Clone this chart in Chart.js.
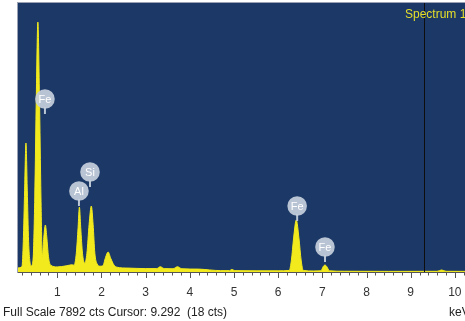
<!DOCTYPE html>
<html lang="en">
<head>
    <meta charset="UTF-8">
    <title>Spectrum 1</title>
    <script src="https://cdn.jsdelivr.net/npm/chart.js"></script>
    <style>
        body { margin: 0; background: #fff; overflow: hidden; }
        canvas { display: block; }
    </style>
</head>
<body>
    <canvas id="spectrum" width="465" height="321"></canvas>
    <script>
        // EDS spectrum: energy (keV) and counts
        const energy = [0.11, 0.20, 0.23, 0.26, 0.29, 0.32, 0.35, 0.38, 0.41,
            0.45, 0.49, 0.525, 0.56, 0.595, 0.63, 0.66,
            0.69, 0.73, 0.76, 0.80, 0.85, 1.00, 1.20, 1.33,
            1.38, 1.43, 1.47, 1.50, 1.53, 1.57, 1.62,
            1.67, 1.72, 1.77, 1.81, 1.85, 1.90, 1.97,
            2.03, 2.09, 2.15, 2.21, 2.28, 2.35, 2.60, 3.00, 3.25, 3.33, 3.42,
            3.62, 3.72, 3.82, 4.20, 4.45, 4.70, 4.90, 4.95, 5.02, 5.50, 6.00,
            6.25, 6.30, 6.35, 6.41, 6.47, 6.52, 6.57, 6.80,
            6.97, 7.02, 7.06, 7.10, 7.16, 7.50, 8.50, 9.60, 9.70, 9.80, 10.23];
        const counts = [120, 160, 900, 2400, 3785, 2400, 900, 300, 180,
            350, 2200, 5200, 7335, 5200, 2200, 450,
            950, 1379, 1050, 450, 200, 150, 180, 210,
            200, 550, 1300, 1907, 1300, 550, 260,
            550, 1400, 1936, 1400, 550, 240, 170,
            180, 420, 587, 400, 210, 140, 115, 100, 100, 155, 100,
            95, 155, 95, 85, 60, 40, 40, 75, 40, 35, 35,
            45, 350, 1000, 1526, 1000, 350, 45, 30,
            35, 160, 205, 160, 35, 22, 18, 20, 60, 20, 18];

        // element markers: name, line energy (keV), height of the marker (counts)
        const peakNames = ['Fe', 'Al', 'Si', 'Fe', 'Fe'];
        const peakEnergy = [0.72, 1.49, 1.74, 6.43, 7.06];
        const peakMarkCounts = [5076, 2377, 2934, 1936, 733];

        const fullScale = 7892;
        const cursorKeV = 9.292;
        const cursorCounts = 18;
        const xMin = 0.11, xMax = 10.23;

        const FONT = '"Liberation Sans", Arial, sans-serif';
        const isMajor = v => Math.abs(v - Math.round(v)) < 1e-6;

        const spectrumFrame = {
            id: 'spectrumFrame',
            beforeDraw(chart) {
                const { ctx, chartArea: a } = chart;
                ctx.save();
                ctx.fillStyle = '#1c3866';
                ctx.fillRect(a.left, a.top, a.right - a.left, a.bottom - a.top);
                ctx.restore();
            },
            afterDatasetsDraw(chart) {
                const { ctx, chartArea: a, scales: { x, y } } = chart;
                ctx.save();

                // cursor line
                const cx = Math.round(x.getPixelForValue(cursorKeV)) + 0.5;
                ctx.strokeStyle = '#0e0e0e';
                ctx.lineWidth = 1;
                ctx.beginPath();
                ctx.moveTo(cx, a.top);
                ctx.lineTo(cx, a.bottom);
                ctx.stroke();

                // element bubbles
                peakNames.forEach((name, i) => {
                    const px = x.getPixelForValue(peakEnergy[i]);
                    const py = y.getPixelForValue(peakMarkCounts[i]);
                    ctx.strokeStyle = 'rgba(196,205,219,0.95)';
                    ctx.lineWidth = 2;
                    ctx.beginPath();
                    ctx.moveTo(px, py + 8);
                    ctx.lineTo(px, py + 15);
                    ctx.stroke();
                    ctx.fillStyle = 'rgba(196,205,219,0.93)';
                    ctx.beginPath();
                    ctx.arc(px, py, 9.8, 0, Math.PI * 2);
                    ctx.fill();
                    ctx.fillStyle = '#ffffff';
                    ctx.font = '11px ' + FONT;
                    ctx.textAlign = 'center';
                    ctx.textBaseline = 'middle';
                    ctx.fillText(name, px, py + 0.5);
                });

                // plot frame
                ctx.strokeStyle = '#9aa2b4';
                ctx.lineWidth = 1;
                ctx.strokeRect(a.left - 0.5, a.top - 0.5, a.right - a.left + 1, a.bottom - a.top + 1);

                // axis line and ticks
                ctx.strokeStyle = '#555';
                ctx.beginPath();
                ctx.moveTo(a.left, a.bottom + 0.5);
                ctx.lineTo(a.right, a.bottom + 0.5);
                ctx.stroke();
                x.ticks.forEach(t => {
                    const tx = Math.round(x.getPixelForValue(t.value)) + 0.5;
                    ctx.beginPath();
                    ctx.moveTo(tx, a.bottom);
                    ctx.lineTo(tx, a.bottom + (isMajor(t.value) ? 6 : 3.5));
                    ctx.stroke();
                });

                // spectrum name
                ctx.fillStyle = '#e6df2a';
                ctx.font = '12px ' + FONT;
                ctx.textAlign = 'left';
                ctx.textBaseline = 'middle';
                ctx.fillText('Spectrum 1', 405, 15);
                ctx.restore();
            },
            afterDraw(chart) {
                const { ctx } = chart;
                ctx.save();
                ctx.fillStyle = '#222';
                ctx.font = '12px ' + FONT;
                ctx.textBaseline = 'middle';
                ctx.textAlign = 'left';
                ctx.fillText('Full Scale ' + fullScale + ' cts Cursor: ' + cursorKeV.toFixed(3) +
                    '  (' + cursorCounts + ' cts)', 3, 313);
                ctx.fillText('keV', 449, 313);
                ctx.restore();
            }
        };

        new Chart(document.getElementById('spectrum'), {
            type: 'line',
            data: {
                datasets: [{
                    data: energy.map((e, i) => ({ x: e, y: counts[i] })),
                    borderColor: '#f2ea1c',
                    backgroundColor: '#f2ea1c',
                    borderWidth: 1,
                    fill: 'origin',
                    pointRadius: 0,
                    cubicInterpolationMode: 'monotone'
                }]
            },
            options: {
                responsive: false,
                animation: false,
                devicePixelRatio: 1,
                layout: { padding: { left: 18, top: 3, right: 0, bottom: 0 } },
                plugins: { legend: { display: false }, tooltip: { enabled: false } },
                scales: {
                    x: {
                        type: 'linear',
                        min: xMin,
                        max: xMax,
                        grid: { display: false, drawTicks: false },
                        border: { display: false },
                        ticks: {
                            stepSize: 0.2,
                            includeBounds: false,
                            autoSkip: false,
                            maxRotation: 0,
                            padding: 13,
                            color: '#333',
                            font: { family: FONT, size: 12 },
                            callback: v => isMajor(v) ? String(Math.round(v)) : ''
                        },
                        afterFit: s => {
                            s.height = 49;
                            s.paddingLeft = 0;
                            s.paddingRight = 0;
                        }
                    },
                    y: {
                        display: false,
                        min: 0,
                        max: fullScale
                    }
                }
            },
            plugins: [spectrumFrame]
        });
    </script>
</body>
</html>
